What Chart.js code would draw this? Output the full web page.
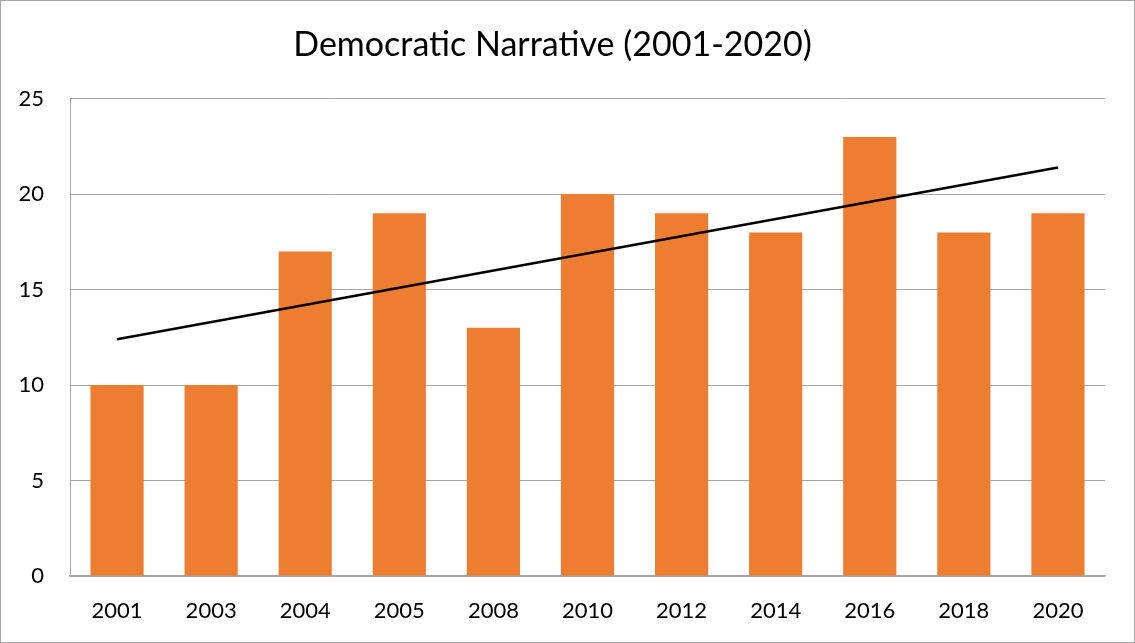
<!DOCTYPE html>
<html lang="en">
<head>
    <meta charset="UTF-8">
    <title>Democratic Narrative</title>
    <script src="https://cdn.jsdelivr.net/npm/chart.js"></script>
    <style>
        html, body { margin: 0; padding: 0; background: #fff; }
        #chart-container { width: 1135px; height: 643px; position: relative; }
    </style>
</head>
<body>
    <div id="chart-container">
        <canvas id="narrativeChart"></canvas>
    </div>

    <script>
        // Data
        const years = ["2001", "2003", "2004", "2005", "2008", "2010", "2012", "2014", "2016", "2018", "2020"];
        const counts = [10, 10, 17, 19, 13, 20, 19, 18, 23, 18, 19];
        // linear trend line: start and end values only
        const trendEnds = [12.4, 21.4];
        const yTicks = [0, 5, 10, 15, 20, 25];

        const trendData = years.map((y, i) => i === 0 ? trendEnds[0] : (i === years.length - 1 ? trendEnds[1] : null));

        // outer gray frame
        const framePlugin = {
            id: "frame",
            afterDraw(chart) {
                const c = chart.ctx;
                c.save();
                c.strokeStyle = "#a6a6a6";
                c.lineWidth = 1;
                c.strokeRect(0.5, 0.5, chart.width - 1, chart.height - 1);
                c.restore();
            }
        };

        const fontFamily = "Lato, 'Open Sans', sans-serif";

        new Chart(document.getElementById("narrativeChart"), {
            data: {
                labels: years,
                datasets: [
                    {
                        type: "line",
                        label: "Trend",
                        data: trendData,
                        spanGaps: true,
                        borderColor: "#000",
                        borderWidth: 2.5,
                        pointRadius: 0,
                        order: 0
                    },
                    {
                        type: "bar",
                        label: "Democratic Narrative",
                        data: counts,
                        backgroundColor: "#ED7D31",
                        categoryPercentage: 1,
                        barPercentage: 0.565,
                        order: 1
                    }
                ]
            },
            options: {
                responsive: true,
                maintainAspectRatio: false,
                animation: false,
                layout: { padding: { left: 0, right: 30, top: 0, bottom: 0 } },
                plugins: {
                    legend: { display: false },
                    tooltip: { enabled: false },
                    title: {
                        display: true,
                        text: "Democratic Narrative (2001-2020)",
                        color: "#000",
                        font: { family: fontFamily, size: 34, weight: "normal" },
                        padding: { top: 25, bottom: 33 }
                    }
                },
                scales: {
                    x: {
                        offset: true,
                        grid: { display: false, drawTicks: false },
                        border: { display: true, color: "#a6a6a6", width: 1.5 },
                        ticks: { color: "#000", font: { family: fontFamily, size: 22 }, padding: 22, maxRotation: 0 },
                        afterFit(scale) { scale.height = 67; }
                    },
                    y: {
                        min: 0,
                        max: 25,
                        afterBuildTicks(scale) { scale.ticks = yTicks.map(v => ({ value: v })); },
                        grid: { color: "#a6a6a6", lineWidth: 1, drawTicks: false },
                        border: { display: true, color: "#a6a6a6", width: 1 },
                        ticks: { color: "#000", font: { family: fontFamily, size: 22 }, padding: 26 },
                        afterFit(scale) { scale.width = 70; }
                    }
                }
            },
            plugins: [framePlugin]
        });
    </script>
</body>
</html>
